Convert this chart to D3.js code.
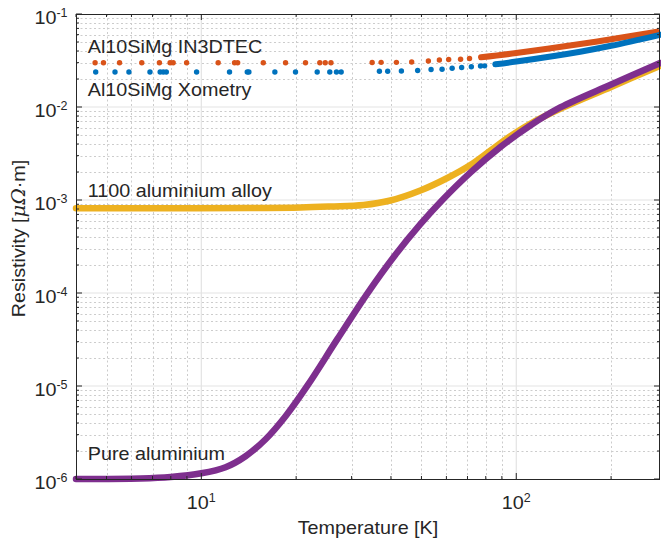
<!DOCTYPE html>
<html>
<head>
<meta charset="utf-8">
<script src="https://cdn.jsdelivr.net/npm/d3@7"></script>
<style>
  html, body { margin: 0; padding: 0; background: #ffffff; }
  svg { display: block; }
  text { font-family: "Liberation Sans", Arial, Helvetica, sans-serif; fill: #262626; }
</style>
</head>
<body>
<svg id="chart" width="661" height="542"></svg>
<script>
// Temperatures in K, resistivities in µΩ·m

// Pure aluminium
const pureT   = [4.0, 6.42, 7.99, 10.0, 11.94, 13.82, 16.0, 18.51, 21.74, 27.06, 33.69, 41.33, 49.6, 58.26, 71.47, 88.97, 110.8, 137.9, 200.1, 286.2];
const pureRho = [1.0e-6, 1.012e-6, 1.05e-6, 1.151e-6, 1.339e-6, 1.758e-6, 2.679e-6, 4.735e-6, 1.015e-5, 3.21e-5, 9.93e-5, 2.58e-4, 5.49e-4, 1.0e-3, 1.97e-3, 3.705e-3, 6.33e-3, 9.88e-3, 1.745e-2, 2.97e-2];

// 1100 aluminium alloy
const alloyT   = [4.0, 6.91, 14.33, 20.65, 25.71, 32.72, 39.85, 49.6, 60.42, 71.47, 82.70, 95.7, 110.8, 137.9, 200.1, 286.2];
const alloyRho = [8.14e-4, 8.14e-4, 8.20e-4, 8.30e-4, 8.51e-4, 8.84e-4, 9.88e-4, 1.265e-3, 1.724e-3, 2.378e-3, 3.397e-3, 4.85e-3, 6.60e-3, 9.56e-3, 1.644e-2, 2.773e-2];

// Al10SiMg IN3DTEC: sparse points, then a dense run
const in3dtecDotT   = [4.60, 4.89, 5.50, 6.47, 7.36, 7.96, 8.14, 8.98, 11.31, 12.75, 13.04, 15.73, 18.51, 21.42, 23.78, 24.74, 25.80, 34.86, 37.23, 41.63, 46.55, 52.59, 56.99, 61.0, 66.55, 71.05];
const in3dtecDotRho = [0.0299, 0.0299, 0.0299, 0.0299, 0.0299, 0.0299, 0.0299, 0.0299, 0.0299, 0.0299, 0.0299, 0.0299, 0.0299, 0.0299, 0.0299, 0.0299, 0.0299, 0.0301, 0.0302, 0.0302, 0.0305, 0.0312, 0.0320, 0.0324, 0.0326, 0.0332];
const in3dtecRunT   = [77.3, 100, 159.6, 200, 280];
const in3dtecRunRho = [0.0342, 0.0380, 0.0475, 0.0535, 0.0645];

// Al10SiMg Xometry: sparse points, then a dense run
const xometryDotT   = [4.62, 5.32, 5.89, 6.87, 7.40, 7.57, 7.74, 9.66, 12.29, 13.99, 14.16, 17.12, 19.91, 23.33, 25.58, 26.86, 27.80, 36.77, 39.06, 43.18, 48.63, 53.64, 58.13, 62.57, 67.08, 72.0, 77.0, 79.34];
const xometryDotRho = [0.0238, 0.0238, 0.0238, 0.0238, 0.0238, 0.0238, 0.0238, 0.0238, 0.0238, 0.0238, 0.0238, 0.0238, 0.0238, 0.0238, 0.0238, 0.0238, 0.0238, 0.0242, 0.0242, 0.0244, 0.0247, 0.0253, 0.0255, 0.0261, 0.0266, 0.0271, 0.0276, 0.0277];
const xometryRunT   = [85.8, 100, 159.6, 200, 286];
const xometryRunRho = [0.0288, 0.0308, 0.0393, 0.0455, 0.0597];

// Axis ranges and tick exponents
const xDomain = [4, 286];
const yDomain = [1e-6, 1e-1];
const xTickExp = [1, 2];
const yTickExp = [-6, -5, -4, -3, -2, -1];

// Curve annotations, anchored in data coordinates (text baseline)
const annotations = [
  { text: "Al10SiMg IN3DTEC", T: 4.36, rho: 0.0378 },
  { text: "Al10SiMg Xometry", T: 4.36, rho: 0.01313 },
  { text: "1100 aluminium alloy", T: 4.36, rho: 1.07e-3 },
  { text: "Pure aluminium", T: 4.36, rho: 1.6e-6 }
];

const colors = {
  blue: "#0072BD", orange: "#D95319", yellow: "#EDB120", purple: "#7E2F8E"
};

const plot = { left: 76, top: 14, right: 660, bottom: 479 };
const FS = 19, SX = 1.04, FS_EXP = 12;
const axisColor = "#262626";

const svg = d3.select("#chart");
const x = d3.scaleLog().domain(xDomain).range([plot.left, plot.right]);
const y = d3.scaleLog().domain(yDomain).range([plot.bottom, plot.top]);

// Minor / major tick values
const xMinor = [];
for (let e = 0; e <= 2; e++) for (let k = 2; k <= 9; k++) {
  const v = k * Math.pow(10, e);
  if (v >= xDomain[0] && v <= xDomain[1]) xMinor.push(v);
}
const xMajor = xTickExp.map(e => Math.pow(10, e));
const yMinor = [];
for (let e = -6; e < -1; e++) for (let k = 2; k <= 9; k++) yMinor.push(k * Math.pow(10, e));
const yMajor = yTickExp.map(e => Math.pow(10, e));

// Grid
const grid = svg.append("g");
grid.selectAll("line.xmin").data(xMinor).join("line")
  .attr("x1", d => Math.round(x(d)) + 0.5).attr("x2", d => Math.round(x(d)) + 0.5).attr("y1", plot.top).attr("y2", plot.bottom)
  .attr("stroke", "#cccccc").attr("stroke-width", 1).attr("stroke-dasharray", "2,2.5");
grid.selectAll("line.ymin").data(yMinor).join("line")
  .attr("y1", d => Math.round(y(d)) + 0.5).attr("y2", d => Math.round(y(d)) + 0.5).attr("x1", plot.left).attr("x2", plot.right)
  .attr("stroke", "#cccccc").attr("stroke-width", 1).attr("stroke-dasharray", "2,2.5");
grid.selectAll("line.xmaj").data(xMajor).join("line")
  .attr("x1", d => x(d)).attr("x2", d => x(d)).attr("y1", plot.top).attr("y2", plot.bottom)
  .attr("stroke", "#e3e3e3").attr("stroke-width", 1.2);
grid.selectAll("line.ymaj").data(yMajor.slice(1, -1)).join("line")
  .attr("y1", d => y(d)).attr("y2", d => y(d)).attr("x1", plot.left).attr("x2", plot.right)
  .attr("stroke", "#e3e3e3").attr("stroke-width", 1.2);

// Series
const line = d3.line()
  .x(d => x(d[0])).y(d => y(d[1]))
  .curve(d3.curveCatmullRom.alpha(0.5));
const zip = (a, b) => a.map((v, i) => [v, b[i]]);

const marks = svg.append("g");
marks.append("path").datum(zip(alloyT, alloyRho)).attr("d", line)
  .attr("fill", "none").attr("stroke", colors.yellow).attr("stroke-width", 6.5)
  .attr("stroke-linecap", "round").attr("stroke-linejoin", "round");
marks.append("path").datum(zip(pureT, pureRho)).attr("d", line)
  .attr("fill", "none").attr("stroke", colors.purple).attr("stroke-width", 6.5)
  .attr("stroke-linecap", "round").attr("stroke-linejoin", "round");

marks.append("path").datum(zip(in3dtecRunT, in3dtecRunRho)).attr("d", line)
  .attr("fill", "none").attr("stroke", colors.orange).attr("stroke-width", 6)
  .attr("stroke-linecap", "round");
marks.append("path").datum(zip(xometryRunT, xometryRunRho)).attr("d", line)
  .attr("fill", "none").attr("stroke", colors.blue).attr("stroke-width", 6)
  .attr("stroke-linecap", "round");

marks.selectAll("circle.in3").data(zip(in3dtecDotT, in3dtecDotRho)).join("circle")
  .attr("cx", d => x(d[0])).attr("cy", d => y(d[1])).attr("r", 2.7).attr("fill", colors.orange);
marks.selectAll("circle.xom").data(zip(xometryDotT, xometryDotRho)).join("circle")
  .attr("cx", d => x(d[0])).attr("cy", d => y(d[1])).attr("r", 2.7).attr("fill", colors.blue);

// Axes box and ticks
const axes = svg.append("g");
axes.append("rect")
  .attr("x", plot.left + 0.5).attr("y", plot.top + 0.5)
  .attr("width", plot.right - plot.left - 1).attr("height", plot.bottom - plot.top)
  .attr("fill", "none").attr("stroke", axisColor).attr("stroke-width", 1);

const tickLen = { major: 6, minor: 3 };
function xTicks(vals, len) {
  axes.selectAll(null).data(vals).join("line")
    .attr("x1", d => x(d)).attr("x2", d => x(d)).attr("y1", plot.bottom).attr("y2", plot.bottom - len)
    .attr("stroke", axisColor);
  axes.selectAll(null).data(vals).join("line")
    .attr("x1", d => x(d)).attr("x2", d => x(d)).attr("y1", plot.top).attr("y2", plot.top + len)
    .attr("stroke", axisColor);
}
function yTicks(vals, len) {
  axes.selectAll(null).data(vals).join("line")
    .attr("y1", d => y(d)).attr("y2", d => y(d)).attr("x1", plot.left).attr("x2", plot.left + len)
    .attr("stroke", axisColor);
  axes.selectAll(null).data(vals).join("line")
    .attr("y1", d => y(d)).attr("y2", d => y(d)).attr("x1", plot.right).attr("x2", plot.right - len)
    .attr("stroke", axisColor);
}
xTicks(xMinor, tickLen.minor);
xTicks(xMajor, tickLen.major);
yTicks(yMinor, tickLen.minor);
yTicks(yMajor, tickLen.major);

// Horizontally widened text helper
function label(parent, px, py, anchor, fs) {
  const g = parent.append("g").attr("transform", `translate(${px},${py}) scale(${SX},1)`);
  return g.append("text").attr("text-anchor", anchor).attr("font-size", fs);
}
function powerLabel(parent, px, py, anchor, exp) {
  const t = label(parent, px, py, anchor, FS);
  t.append("tspan").text("10");
  t.append("tspan").attr("font-size", FS_EXP).attr("dy", -7).text(String(exp));
}

// Tick labels
const tickLabels = svg.append("g");
yTickExp.forEach(e => powerLabel(tickLabels, 67.5, y(Math.pow(10, e)) + 10, "end", e));
xTickExp.forEach(e => powerLabel(tickLabels, x(Math.pow(10, e)), 509, "middle", e));

// Axis titles
label(svg, (plot.left + plot.right) / 2, 534, "middle", FS).text("Temperature [K]");
const yt = svg.append("g").attr("transform", `translate(25,${(plot.top + plot.bottom) / 2 - 8}) rotate(-90) scale(${SX},1)`)
  .append("text").attr("text-anchor", "middle").attr("font-size", FS);
yt.append("tspan").text("Resistivity [");
yt.append("tspan").attr("font-family", "'DejaVu Serif', 'Liberation Serif', serif").attr("font-style", "italic").text("μΩ");
yt.append("tspan").text("·m]");

// Curve annotations
const ann = svg.append("g");
annotations.forEach(a => {
  label(ann, x(a.T), y(a.rho), "start", FS).attr("fill", "#000000").text(a.text);
});
</script>
</body>
</html>
